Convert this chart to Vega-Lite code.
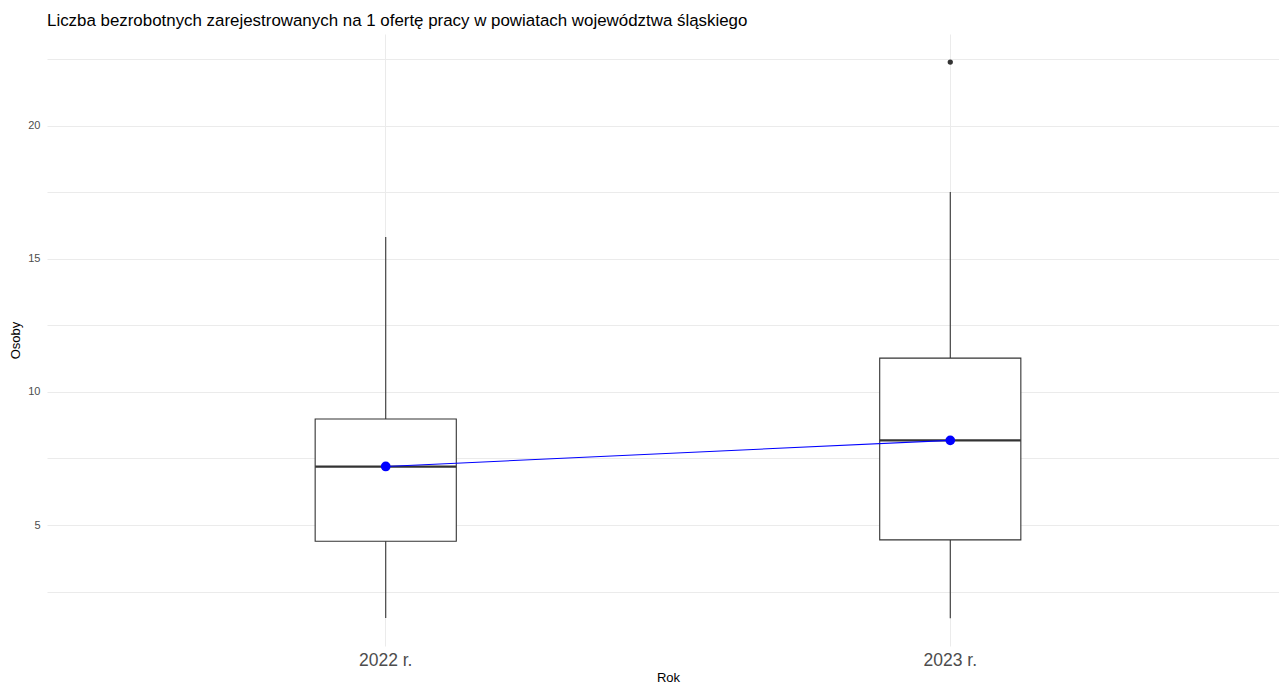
{
  "$schema": "https://vega.github.io/schema/vega-lite/v6.json",
  "autosize": "none",
  "width": 1232,
  "height": 612,
  "padding": {"left": 47, "top": 34, "right": 0, "bottom": 38},
  "background": "white",
  "title": {
    "text": "Liczba bezrobotnych zarejestrowanych na 1 ofertę pracy w powiatach województwa śląskiego",
    "anchor": "start",
    "frame": "group",
    "font": "Liberation Sans",
    "fontSize": 16.9,
    "fontWeight": "normal",
    "color": "black",
    "offset": 4.5
  },
  "config": {
    "view": {"stroke": null},
    "axis": {"domain": false, "ticks": false, "gridColor": "#ebebeb", "gridWidth": 1, "labelFont": "Liberation Sans", "titleFont": "Liberation Sans", "titleFontWeight": "normal", "titleColor": "black", "labelColor": "#4d4d4d"}
  },
  "datasets": {
    "summary": [
      {"rok": "2022 r.", "lower": 1.51, "q1": 4.39, "median": 7.19, "q3": 8.98, "upper": 15.82, "mean": 7.2},
      {"rok": "2023 r.", "lower": 1.5, "q1": 4.44, "median": 8.18, "q3": 11.27, "upper": 17.51, "mean": 8.18}
    ],
    "outliers": [
      {"rok": "2023 r.", "value": 22.39}
    ]
  },
  "data": {"name": "summary"},
  "encoding": {
    "x": {
      "field": "rok",
      "type": "nominal",
      "title": "Rok",
      "scale": {"type": "band", "paddingInner": 0.75, "paddingOuter": 0.475, "range": [0, 1242]},
      "axis": {"labelAngle": 0, "labelFontSize": 17.5, "labelPadding": 5, "titleFontSize": 13, "titleBaseline": "alphabetic", "titleY": 35.5, "grid": true, "bandPosition": 0.5}
    }
  },
  "layer": [
    {
      "mark": {"type": "rule", "color": "#333333", "strokeWidth": 1.1},
      "encoding": {
        "y": {
          "field": "lower",
          "type": "quantitative",
          "title": "Osoby",
          "scale": {"domain": [0.455, 23.445], "nice": false, "zero": false},
          "axis": {
            "values": [2.5, 5, 7.5, 10, 12.5, 15, 17.5, 20, 22.5],
            "labelExpr": "datum.value % 5 == 0 ? datum.label : ''",
            "labelFontSize": 11,
            "labelPadding": 7,
            "titleFontSize": 13,
            "titlePadding": 5
          }
        },
        "y2": {"field": "upper"}
      }
    },
    {
      "mark": {"type": "bar", "fill": "white", "stroke": "#333333", "strokeWidth": 1.1},
      "encoding": {
        "y": {"field": "q1", "type": "quantitative"},
        "y2": {"field": "q3"}
      }
    },
    {
      "mark": {"type": "tick", "orient": "horizontal", "size": 141, "thickness": 2.2, "color": "#333333", "opacity": 1},
      "encoding": {
        "y": {"field": "median", "type": "quantitative"}
      }
    },
    {
      "data": {"name": "outliers"},
      "mark": {"type": "point", "filled": true, "size": 28, "color": "#333333", "opacity": 1},
      "encoding": {
        "y": {"field": "value", "type": "quantitative"}
      }
    },
    {
      "mark": {"type": "line", "color": "blue", "strokeWidth": 1.1},
      "encoding": {
        "y": {"field": "mean", "type": "quantitative"}
      }
    },
    {
      "mark": {"type": "point", "filled": true, "size": 95, "color": "blue", "opacity": 1},
      "encoding": {
        "y": {"field": "mean", "type": "quantitative"}
      }
    }
  ]
}
